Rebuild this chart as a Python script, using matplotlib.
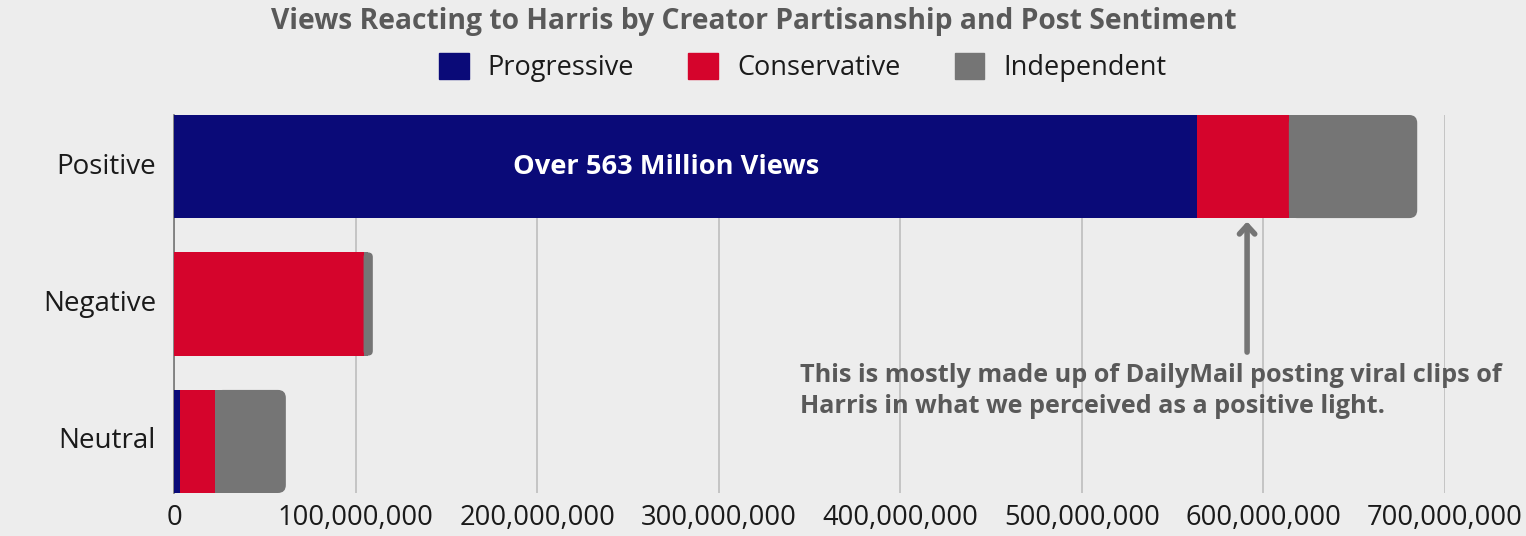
import matplotlib.pyplot as plt
from matplotlib.patches import FancyBboxPatch, Patch

# views per sentiment, stacked by creator partisanship
sentiments = ["Positive", "Negative", "Neutral"]
groups = ["Progressive", "Conservative", "Independent"]
progressive = [563_500_000, 0, 3_300_000]
conservative = [50_500_000, 104_400_000, 19_300_000]
independent = [70_700_000, 5_100_000, 39_000_000]
xticks = [0, 100_000_000, 200_000_000, 300_000_000, 400_000_000,
          500_000_000, 600_000_000, 700_000_000]

colors = ["#0a0a78", "#d5042c", "#757575"]
bg = "#ededed"
font = "Open Sans"

W, H = 1526, 536
fig = plt.figure(figsize=(W / 100, H / 100), dpi=100, facecolor=bg)
left, right, top, bottom = 174, 1445, 115, 493
ax = fig.add_axes([left / W, 1 - bottom / H, (right - left) / W, (bottom - top) / H])
ax.set_facecolor(bg)

bar_h = 0.75
ax.set_xlim(0, 700_000_000)
ax.set_ylim(2 + bar_h / 2, -bar_h / 2)

# px per data unit, used to keep rounded corners circular
px_x = (right - left) / 700_000_000
px_y = (bottom - top) / (2 + bar_h)
aspect = px_x / px_y
radius = 8 / px_x

series = [progressive, conservative, independent]
for i, s in enumerate(sentiments):
    x0 = 0
    for j, vals in enumerate(series):
        w = vals[i]
        if w <= 0:
            continue
        if j == len(series) - 1:
            # last segment gets rounded right corners
            r = min(radius, w / 2)
            box = FancyBboxPatch((x0, i - bar_h / 2), w, bar_h,
                                 boxstyle=f"round,pad=0,rounding_size={r}",
                                 mutation_aspect=aspect, fc=colors[j], ec="none", zorder=3)
            ax.add_patch(box)
            ax.barh(i, w - r, left=x0, height=bar_h, color=colors[j], zorder=3)
        else:
            ax.barh(i, w, left=x0, height=bar_h, color=colors[j], zorder=3)
        x0 += w

ax.set_yticks(range(len(sentiments)))
ax.set_yticklabels(sentiments, fontsize=20, family=font, color="#1a1a1a", va="center")
for lbl in ax.get_yticklabels():
    lbl.set_y(lbl.get_position()[1])
ax.set_xticks(xticks)
ax.set_xticklabels([f"{t:,}" for t in xticks], fontsize=19.7, family=font, color="#1a1a1a")
ax.tick_params(length=0, pad=8)
ax.tick_params(axis="y", pad=13)
ax.grid(axis="x", color="#bdbdbd", lw=1.2, zorder=0)
for sp in ["top", "right", "bottom"]:
    ax.spines[sp].set_visible(False)
ax.spines["left"].set_color("#757575")
ax.spines["left"].set_linewidth(1.2)

ax.text(271_000_000, 0, "Over 563 Million Views", color="white", fontsize=19.6,
        fontweight="bold", family=font, ha="center", va="center", zorder=4)

ax.annotate("", xy=(591_000_000, 0.40), xytext=(591_000_000, 1.35),
            arrowprops=dict(arrowstyle="->,head_length=0.6,head_width=0.55",
                            lw=4, color="#757575", shrinkA=0, shrinkB=0,
                            capstyle="round", joinstyle="round"), zorder=4)
ax.text(345_000_000, 1.43,
        "This is mostly made up of DailyMail posting viral clips of\n"
        "Harris in what we perceived as a positive light.",
        color="#595959", fontsize=18.2, fontweight="bold", family=font,
        ha="left", va="top", linespacing=1.3, zorder=4)

fig.text(0.494, 0.959, "Views Reacting to Harris by Creator Partisanship and Post Sentiment",
         color="#595959", fontsize=20.3, fontweight="bold", family=font,
         ha="center", va="center")

handles = [Patch(color=c) for c in colors]
fig.legend(handles, groups, loc="center", bbox_to_anchor=(0.526, 0.874), ncol=3,
           frameon=False, prop=dict(family=font, size=19.5), labelcolor="#1a1a1a",
           handlelength=1.1, handleheight=1.1, handletextpad=0.7, columnspacing=2.0)

fig.savefig("out.png", dpi=100, facecolor=bg)
